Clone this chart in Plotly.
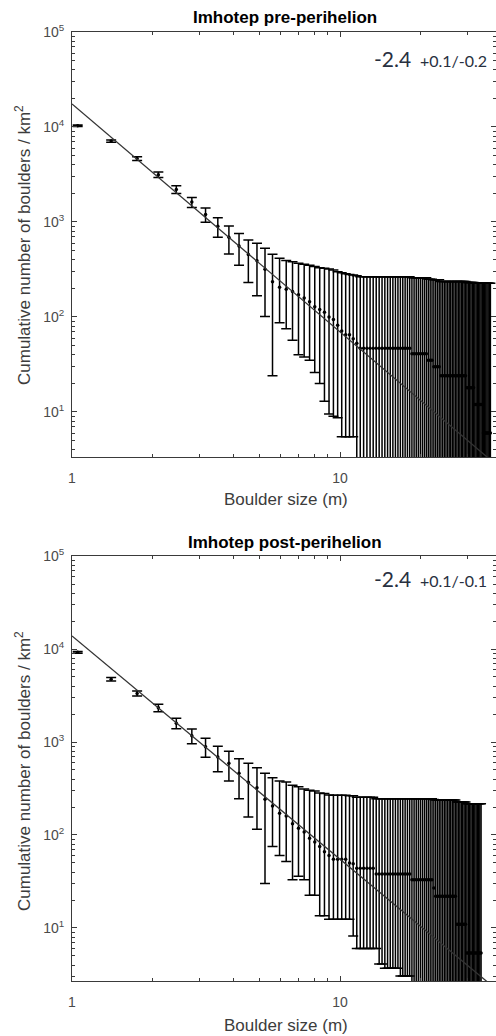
import plotly.graph_objects as go

# Boulder size bins (m), shared by both epochs
boulder_size_m = [
    1.05, 1.4, 1.75, 2.1, 2.45, 2.8, 3.15, 3.5, 3.85, 4.2,
    4.55, 4.9, 5.25, 5.6, 5.95, 6.3, 6.65, 7.0, 7.35, 7.7,
    8.05, 8.4, 8.75, 9.1, 9.45, 9.8, 10.15, 10.5, 10.85, 11.2,
    11.55, 11.9, 12.25, 12.6, 12.95, 13.3, 13.65, 14.0, 14.35, 14.7,
    15.05, 15.4, 15.75, 16.1, 16.45, 16.8, 17.15, 17.5, 17.85, 18.2,
    18.55, 18.9, 19.25, 19.6, 19.95, 20.3, 20.65, 21.0, 21.35, 21.7,
    22.05, 22.4, 22.75, 23.1, 23.45, 23.8, 24.15, 24.5, 24.85, 25.2,
    25.55, 25.9, 26.25, 26.6, 26.95, 27.3, 27.65, 28.0, 28.35, 28.7,
    29.05, 29.4, 29.75, 30.1, 30.45, 30.8, 31.15, 31.5, 31.85, 32.2,
    32.55, 32.9, 33.25, 33.6, 33.95, 34.3, 34.65, 35.0, 35.35, 35.7,
    36.05, 36.4,
]

# Pre-perihelion cumulative density (boulders / km^2)
density_pre = [
    10300, 7100, 4650, 3150, 2200, 1620, 1200, 900, 690, 560,
    455, 390, 318, 235, 206, 196, 185, 171, 158, 145,
    128, 120, 112, 100, 94, 82, 71, 65, 65, 59,
    53, 47, 47, 47, 47, 47, 47, 47, 47, 47,
    47, 47, 47, 47, 47, 47, 47, 47, 47, 47,
    41, 41, 41, 41, 41, 41, 41, 41, 35, 35,
    35, 30, 30, 30, 30, 24, 24, 24, 24, 24,
    24, 24, 24, 24, 24, 24, 24, 24, 24, 24,
    24, 24, 18, 18, 18, 18, 18, 18, 12, 12,
    12, 12, 12, 12, 12, 6, 6, 6, 6, 6,
    6, 6,
]
err_plus_pre = [
    205, 200, 205, 210, 200, 195, 200, 205, 215, 197,
    191, 207, 211, 222, 209, 196, 197, 196, 202, 205,
    211, 210, 214, 220, 218, 218, 221, 221, 215, 217,
    219, 218, 218, 218, 218, 218, 218, 218, 218, 218,
    218, 218, 218, 218, 218, 218, 218, 218, 218, 218,
    218, 218, 218, 218, 218, 218, 218, 218, 215, 215,
    215, 216, 216, 216, 216, 212, 212, 212, 212, 212,
    212, 212, 212, 212, 212, 212, 212, 212, 212, 212,
    212, 212, 212, 212, 212, 212, 212, 212, 216, 216,
    216, 216, 216, 216, 216, 220, 220, 220, 220, 220,
    220, 220,
]
# Lower ends of the error bars; 0 where the bar runs below the axis
lower_pre = [
    10100, 6900, 4445, 2940, 1995, 1420, 995, 690, 460, 350,
    230, 167, 101, 24, 87, 75, 57, 40, 38, 35,
    26, 20, 13, 9.5, 9, 8.7, 5.5, 5.5, 5.5, 5.5,
    0, 0, 0, 0, 0, 0, 0, 0, 0, 0,
    0, 0, 0, 0, 0, 0, 0, 0, 0, 0,
    0, 0, 0, 0, 0, 0, 0, 0, 0, 0,
    0, 0, 0, 0, 0, 0, 0, 0, 0, 0,
    0, 0, 0, 0, 0, 0, 0, 0, 0, 0,
    0, 0, 0, 0, 0, 0, 0, 0, 0, 0,
    0, 0, 0, 0, 0, 0, 0, 0, 0, 0,
    0, 0,
]

# Post-perihelion cumulative density (boulders / km^2)
density_post = [
    9200, 4720, 3330, 2330, 1590, 1170, 890, 690, 590, 460,
    370, 323, 242, 205, 171, 160, 132, 118, 108, 92,
    84, 75, 66, 60, 55, 55, 55, 55, 50, 49,
    44, 44, 44, 44, 44, 44, 38, 38, 38, 38,
    38, 38, 38, 38, 38, 38, 38, 38, 38, 38,
    33, 33, 33, 33, 33, 33, 33, 33, 33, 33,
    33, 27, 22, 22, 22, 22, 22, 22, 22, 22,
    22, 22, 22, 22, 22, 11, 11, 11, 11, 11,
    11, 11, 5.4, 5.4, 5.4, 5.4, 5.4, 5.4, 5.4, 5.4,
    5.4, 5.4, 5.4, 5.4,
]
err_plus_post = [
    210, 205, 210, 210, 205, 210, 205, 210, 205, 200,
    220, 207, 218, 208, 209, 211, 210, 213, 205, 210,
    213, 208, 213, 210, 212, 212, 212, 212, 214, 215,
    210, 210, 210, 210, 210, 210, 207, 207, 207, 207,
    207, 207, 207, 207, 207, 207, 207, 207, 207, 207,
    212, 212, 212, 212, 212, 212, 212, 212, 212, 212,
    212, 214, 216, 216, 216, 216, 216, 216, 216, 216,
    216, 216, 216, 216, 216, 215, 215, 215, 215, 215,
    215, 215, 212, 212, 212, 212, 212, 212, 212, 212,
    212, 212, 212, 212,
]
lower_post = [
    9000, 4520, 3120, 2120, 1385, 960, 685, 480, 380, 245,
    156, 115, 30, 75, 60, 52, 33, 36, 33, 22.5,
    22.5, 13.5, 13.5, 12.4, 12.4, 12.4, 12.4, 12.4, 12.4, 8.2,
    6, 6, 6, 6, 6, 6, 6, 4.1, 4.1, 3.7,
    3.7, 3.7, 3.7, 3.7, 3.7, 3.05, 3.05, 3.05, 3.05, 3.05,
    0, 0, 0, 0, 0, 0, 0, 0, 0, 0,
    0, 0, 0, 0, 0, 0, 0, 0, 0, 0,
    0, 0, 0, 0, 0, 0, 0, 0, 0, 0,
    0, 0, 0, 0, 0, 0, 0, 0, 0, 0,
    0, 0, 0, 0,
]

# Power-law fits N(>D) = A * D^slope
fit_slope = -2.4
fit_amp_pre = 1.75e4
fit_amp_post = 1.38e4
fit_x = [1.0, 45.0]

panel_titles = ["Imhotep pre-perihelion", "Imhotep post-perihelion"]
slope_main = ["-2.4", "-2.4"]
slope_err = ["+0.1/-0.2", "+0.1/-0.1"]
x_title = "Boulder size (m)"
y_title = "Cumulative number of boulders / km<sup>2</sup>"

W, H = 496, 1036
ML = 72
PW = W - ML


def px_x(p):
    return (p - ML) / PW


def px_y(p):
    return 1 - p / H


AX = "#3a3a3a"
TXT = "#4a4a4a"
FONT = "Liberation Sans, Arial, sans-serif"
tick_font = dict(family=FONT, size=14, color=TXT)

fig = go.Figure()


def add_panel(sizes, dens, eplus, lower, amp, xa, ya):
    n = len(dens)
    sz = sizes[:n]
    eminus = [d - lo for d, lo in zip(dens, lower)]
    fig.add_trace(go.Scatter(
        x=sz, y=dens, mode="markers", xaxis=xa, yaxis=ya,
        marker=dict(size=3.5, color="black"),
        error_y=dict(type="data", symmetric=False, array=eplus, arrayminus=eminus,
                     color="black", thickness=1.5, width=5),
        showlegend=False, hoverinfo="x+y",
    ))
    fig.add_trace(go.Scatter(
        x=fit_x, y=[amp * v ** fit_slope for v in fit_x], mode="lines",
        xaxis=xa, yaxis=ya, line=dict(color="#333333", width=1.3),
        showlegend=False, hoverinfo="skip",
    ))


add_panel(boulder_size_m, density_pre, err_plus_pre, lower_pre, fit_amp_pre, "x", "y")
add_panel(boulder_size_m, density_post, err_plus_post, lower_post, fit_amp_post, "x2", "y2")

x_minor = [2, 3, 4, 5, 6, 7, 8, 9, 20, 30, 40]
y_major = [10, 100, 1000, 10000, 100000]
y_major_text = ["10<sup>1</sup>", "10<sup>2</sup>", "10<sup>3</sup>", "10<sup>4</sup>", "10<sup>5</sup>"]
y_minor = [m * 10 ** e for e in range(0, 5) for m in range(2, 10)]


def xaxis_cfg(anchor):
    return dict(
        type="log", range=[0, PW / 268.0], anchor=anchor, domain=[0, 1],
        showline=True, linecolor=AX, linewidth=1, mirror="ticks",
        ticks="inside", ticklen=5, tickcolor=AX, tickwidth=1,
        tickmode="array", tickvals=[1, 10], ticktext=["1", "10"],
        minor=dict(tickmode="array", tickvals=x_minor, ticks="inside",
                   ticklen=3, tickcolor=AX, showgrid=False),
        showgrid=False, zeroline=False, tickfont=tick_font,
        ticklabelstandoff=8, automargin=False,
    )


def yaxis_cfg(anchor, dom, rng):
    return dict(
        type="log", range=rng, anchor=anchor, domain=dom,
        showline=True, linecolor=AX, linewidth=1, mirror="ticks",
        ticks="inside", ticklen=5, tickcolor=AX, tickwidth=1,
        tickmode="array", tickvals=y_major, ticktext=y_major_text,
        minor=dict(tickmode="array", tickvals=y_minor, ticks="inside",
                   ticklen=3, tickcolor=AX, showgrid=False),
        showgrid=False, zeroline=False, tickfont=tick_font,
        ticklabelstandoff=4, automargin=False,
    )


fig.update_layout(
    width=W, height=H,
    margin=dict(l=ML, r=0, t=0, b=0),
    paper_bgcolor="white", plot_bgcolor="white",
    xaxis=xaxis_cfg("y"),
    yaxis=yaxis_cfg("x", [px_y(457), px_y(32)], [0.526, 5]),
    xaxis2=xaxis_cfg("y2"),
    yaxis2=yaxis_cfg("x2", [px_y(981), px_y(556)], [0.43, 5]),
)

ann = []
# panel titles
for title, cy in zip(panel_titles, [18, 542]):
    ann.append(dict(text="<b>%s</b>" % title, x=px_x(285), y=px_y(cy),
                    xref="paper", yref="paper", showarrow=False,
                    xanchor="center", yanchor="middle",
                    font=dict(family=FONT, size=17, color="black")))
# x-axis titles
for cy in [500, 1025]:
    ann.append(dict(text=x_title, x=px_x(286), y=px_y(cy), xref="paper", yref="paper",
                    showarrow=False, xanchor="center", yanchor="middle",
                    font=dict(family=FONT, size=17, color="#3c3c3c")))
# y-axis titles
for cy in [245, 771]:
    ann.append(dict(text=y_title, x=px_x(23), y=px_y(cy), xref="paper", yref="paper",
                    showarrow=False, textangle=-90, xanchor="center", yanchor="middle",
                    font=dict(family=FONT, size=17, color="#3c3c3c")))
# slope labels
for main, err, base in zip(slope_main, slope_err, [68, 588]):
    ann.append(dict(text=main, x=px_x(413), y=px_y(base + 5), xref="paper", yref="paper",
                    showarrow=False, xanchor="right", yanchor="bottom",
                    font=dict(family="Lato, Open Sans, sans-serif", size=21, color="#283040")))
    ann.append(dict(text=err, x=px_x(418), y=px_y(base + 4), xref="paper", yref="paper",
                    showarrow=False, xanchor="left", yanchor="bottom",
                    font=dict(family="Lato, Open Sans, sans-serif", size=16, color="#283040")))

fig.update_layout(annotations=ann)

fig.write_html("out.html")
